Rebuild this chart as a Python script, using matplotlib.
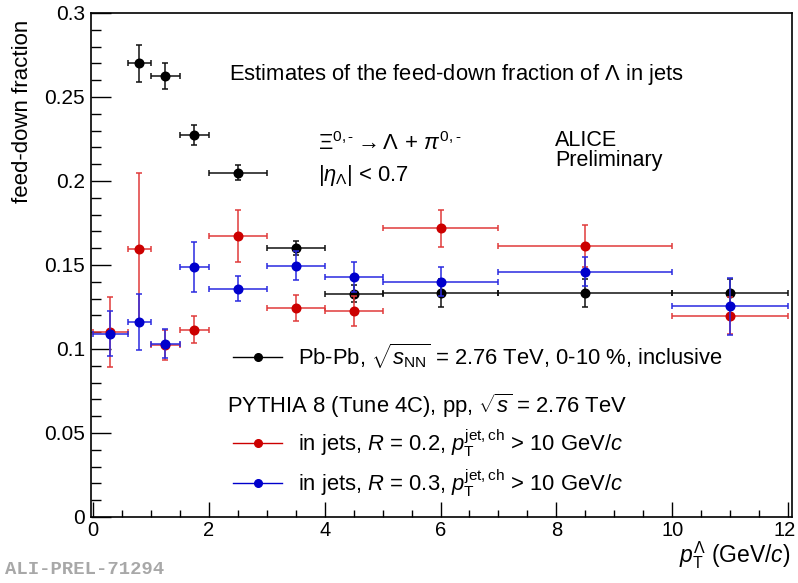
import matplotlib
matplotlib.use("Agg")
import matplotlib.pyplot as plt
from matplotlib.lines import Line2D
from matplotlib.ticker import MultipleLocator, FixedLocator
from matplotlib.transforms import ScaledTranslation

# ---- data ----
pt_pbpb = [0.8, 1.25, 1.75, 2.5, 3.5, 4.5, 6.0, 8.5, 11.0]
pt_pbpb_err = [0.2, 0.25, 0.25, 0.5, 0.5, 0.5, 1.0, 1.5, 1.0]
frac_pbpb = [0.270, 0.2625, 0.2272, 0.2049, 0.160, 0.1328, 0.1334, 0.1334, 0.1334]
frac_pbpb_err = [0.011, 0.008, 0.006, 0.0045, 0.004, 0.005, 0.0084, 0.0084, 0.008]

pt_py = [0.3, 0.8, 1.25, 1.75, 2.5, 3.5, 4.5, 6.0, 8.5, 11.0]
pt_py_err = [0.3, 0.2, 0.25, 0.25, 0.5, 0.5, 0.5, 1.0, 1.5, 1.0]
frac_r02 = [0.1101, 0.1596, 0.1022, 0.1115, 0.1672, 0.1242, 0.1224, 0.1718, 0.1612, 0.1197]
frac_r02_err = [0.021, 0.045, 0.009, 0.008, 0.0154, 0.0078, 0.009, 0.0112, 0.0125, 0.011]
frac_r03 = [0.1091, 0.1159, 0.1032, 0.1487, 0.1360, 0.1497, 0.1427, 0.1400, 0.1461, 0.1254]
frac_r03_err = [0.0135, 0.0166, 0.0085, 0.015, 0.0073, 0.0085, 0.009, 0.0087, 0.0088, 0.017]

x_ticks = [0, 2, 4, 6, 8, 10, 12]
y_ticks = [0, 0.05, 0.1, 0.15, 0.2, 0.25, 0.3]
y_ticklabels = ['0', '0.05', '0.1', '0.15', '0.2', '0.25', '0.3']

plt.rcParams['font.family'] = ['Liberation Sans', 'DejaVu Sans']
plt.rcParams['mathtext.fontset'] = 'custom'
plt.rcParams['mathtext.rm'] = 'Liberation Sans'
plt.rcParams['mathtext.it'] = 'Liberation Sans:italic'
plt.rcParams['mathtext.bf'] = 'Liberation Sans:bold'

W, H = 798, 583
fig = plt.figure(figsize=(W / 100, H / 100), dpi=100)
L, R, T, B = 90.5, 792, 13, 517
ax = fig.add_axes([L / W, 1 - B / H, (R - L) / W, (B - T) / H])

def fx(px):
    return (px - L) / (R - L)

def fy(py):
    return (B - py) / (B - T)

RED, RED_E = '#cc0000', '#e03a3a'
BLUE, BLUE_E = '#0000cc', '#2a2ae0'

ms = 6.2
ax.errorbar(pt_pbpb, frac_pbpb, xerr=pt_pbpb_err, yerr=frac_pbpb_err, fmt='o',
            color='black', ecolor='#111111', ms=ms, elinewidth=1.1, capsize=2.2, capthick=1.1, zorder=3)
ax.errorbar(pt_py, frac_r02, xerr=pt_py_err, yerr=frac_r02_err, fmt='o',
            color=RED, ecolor=RED_E, ms=ms, elinewidth=1.1, capsize=2.2, capthick=1.1, zorder=4)
ax.errorbar(pt_py, frac_r03, xerr=pt_py_err, yerr=frac_r03_err, fmt='o',
            color=BLUE, ecolor=BLUE_E, ms=ms, elinewidth=1.1, capsize=2.2, capthick=1.1, zorder=5)

# x: 0 -> px 93, 12 -> px 788 (frame slightly wider, as in the reference)
ppu = (788 - 93) / 12.0
ax.set_xlim(-(93 - L) / ppu, 12 + (R - 788) / ppu)
ax.set_ylim(0, 0.3)
ax.xaxis.set_major_locator(FixedLocator(x_ticks))
ax.xaxis.set_minor_locator(FixedLocator([v * 0.5 for v in range(0, 25)]))
ax.yaxis.set_major_locator(FixedLocator(y_ticks))
ax.yaxis.set_minor_locator(MultipleLocator(0.01))
ax.set_yticklabels(y_ticklabels)
ax.tick_params(axis='both', which='both', direction='in', top=False, right=False, width=1)
ax.tick_params(axis='y', which='major', length=14.4, pad=4, labelsize=15)
ax.tick_params(axis='y', which='minor', length=7.2)
ax.tick_params(axis='x', which='major', length=10.8, pad=3, labelsize=14.5)
ax.tick_params(axis='x', which='minor', length=5.4)
for s in ax.spines.values():
    s.set_linewidth(1.2)

fig.canvas.draw()
last = ax.get_xticklabels()[-1]
last.set_transform(last.get_transform() + ScaledTranslation(-3 / 100, 0, fig.dpi_scale_trans))

fig.text(23 / W, 1 - 20 / H, 'feed-down fraction', rotation=90, ha='center', va='top', fontsize=16)
fig.text(790 / W, 1 - 562 / H, r'$p_{\rm T}^{\Lambda}$ (GeV/$c$)', ha='right', va='baseline', fontsize=16.5)

fs = 15.8
ax.text(fx(229), fy(80), r'Estimates of the feed-down fraction of $\Lambda$ in jets',
        transform=ax.transAxes, fontsize=fs, va='baseline', ha='left')
ax.text(fx(318), fy(150), r'$\Xi^{0,\text{-}} \rightarrow \Lambda\, +\, \pi^{0,\text{-}}$',
        transform=ax.transAxes, fontsize=fs, va='baseline', ha='left')
ax.text(fx(318), fy(181), r'$|\eta_{\Lambda}|$ < 0.7',
        transform=ax.transAxes, fontsize=fs, va='baseline', ha='left')
ax.text(fx(555), fy(146), 'ALICE', transform=ax.transAxes, fontsize=15.5, va='baseline', ha='left')
ax.text(fx(555), fy(166), 'Preliminary', transform=ax.transAxes, fontsize=15.5, va='baseline', ha='left')

# legends
fpx = fs * 100 / 72
leg_kw = dict(frameon=False, fontsize=fs, handlelength=49 / fpx, handletextpad=16 / fpx,
              borderaxespad=0, borderpad=0, loc='center left')
h_pb = Line2D([], [], color='black', marker='o', ms=5.5, lw=1)
h_r2 = Line2D([], [], color=RED, marker='o', ms=5.5, lw=1)
h_r3 = Line2D([], [], color=BLUE, marker='o', ms=5.5, lw=1)
leg1 = ax.legend([h_pb], [r'Pb-Pb, $\sqrt{s_{\rm NN}}$ = 2.76 TeV, 0-10 %, inclusive'],
                 bbox_to_anchor=(fx(233), fy(356)), **leg_kw)
ax.add_artist(leg1)
ax.text(fx(227), fy(413), r'PYTHIA 8 (Tune 4C), pp, $\sqrt{s}$ = 2.76 TeV',
        transform=ax.transAxes, fontsize=fs, va='baseline', ha='left')
leg2 = ax.legend([h_r2], [r'in jets, $R$ = 0.2, $p_{\rm T}^{\rm jet,ch}$ > 10 GeV/$c$'],
                 bbox_to_anchor=(fx(233), fy(443)), **leg_kw)
ax.add_artist(leg2)
leg3 = ax.legend([h_r3], [r'in jets, $R$ = 0.3, $p_{\rm T}^{\rm jet,ch}$ > 10 GeV/$c$'],
                 bbox_to_anchor=(fx(233), fy(483)), **leg_kw)

fig.text(5 / W, 1 - 570 / H, 'ALI-PREL-71294', family='Liberation Mono', weight='bold',
         color='#a8a8a8', fontsize=13.6, va='center', ha='left')

fig.savefig('out.png', dpi=100)
